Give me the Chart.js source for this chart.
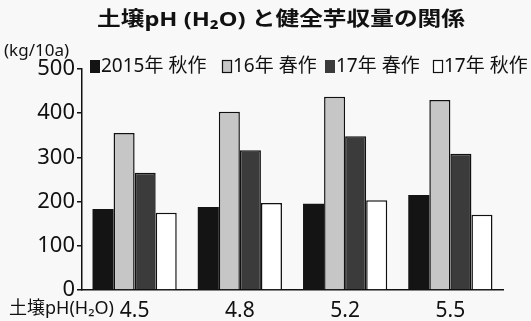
<!DOCTYPE html>
<html>
<head>
<meta charset="utf-8">
<script src="https://cdn.jsdelivr.net/npm/chart.js@4"></script>
<style>
  html, body { margin: 0; padding: 0; background: #f8f8f8; }
  #wrap { width: 531px; height: 321px; }
</style>
</head>
<body>
<div id="wrap"><canvas id="yieldChart" width="531" height="321"></canvas></div>
<script>
// 土壌pHと健全芋収量 (kg/10a)
const phLabels = ['4.5', '4.8', '5.2', '5.5'];
const seriesNames = ['2015年 秋作', '16年 春作', '17年 春作', '17年 秋作'];
const autumn2015 = [183, 188, 195, 215];
const spring2016 = [355, 403, 437, 430];
const spring2017 = [265, 316, 348, 308];
const autumn2017 = [175, 197, 203, 170];
const yTicks = [0, 100, 200, 300, 400, 500];

const titleText = '土壌pH (H₂O) と健全芋収量の関係';
const unitText = '(kg/10a)';
const xAxisText = '土壌pH(H₂O)';

const FAMILY = '"Noto Sans", "Noto Sans CJK JP", sans-serif';
const INK = '#111111';
const fills = ['#141414', '#c6c6c6', '#3b3b3b', '#ffffff'];

Chart.defaults.font.family = FAMILY;
Chart.defaults.color = INK;

// text drawn with a slight horizontal stretch like the scanned original
function drawText(ctx, s, x, y, font, align, sx) {
    ctx.save();
    ctx.font = font;
    ctx.fillStyle = INK;
    ctx.textBaseline = 'middle';
    ctx.textAlign = align;
    ctx.translate(x, y);
    ctx.scale(sx, 1);
    ctx.fillText(s, 0, 0);
    ctx.restore();
}

const annotations = {
    id: 'annotations',
    beforeDraw(chart) {
        const ctx = chart.ctx;
        ctx.save();
        ctx.fillStyle = '#f8f8f8';
        ctx.fillRect(0, 0, chart.width, chart.height);
        ctx.restore();
    },
    afterDraw(chart) {
        const ctx = chart.ctx;

        // title, stretched to the original width
        const tf = 'bold 20px ' + FAMILY;
        ctx.save();
        ctx.font = tf;
        const tw = ctx.measureText(titleText).width;
        ctx.restore();
        drawText(ctx, titleText, 281, 20, tf, 'center', 368 / tw);

        drawText(ctx, unitText, 4, 51, '17px ' + FAMILY, 'left', 1);
        drawText(ctx, xAxisText, 9, 309, '18px ' + FAMILY, 'left', 1);

        // legend row
        const boxX = [90, 222, 325, 433];
        ctx.save();
        seriesNames.forEach((name, i) => {
            ctx.fillStyle = fills[i];
            ctx.fillRect(boxX[i], 60, 10, 13);
            if (i !== 0 && i !== 2) {
                ctx.strokeStyle = INK;
                ctx.lineWidth = 1.2;
                ctx.strokeRect(boxX[i] + 0.5, 60.5, 9, 12);
            }
            drawText(ctx, name, boxX[i] + 11, 67, '19px ' + FAMILY, 'left', 1);
        });
        ctx.restore();
    }
};

const datasets = [autumn2015, spring2016, spring2017, autumn2017].map((vals, i) => ({
    label: seriesNames[i],
    data: vals,
    backgroundColor: fills[i],
    borderColor: INK,
    borderWidth: i === 0 ? 0 : 1.5,
    categoryPercentage: 0.8,
    barPercentage: 1.0
}));

new Chart(document.getElementById('yieldChart').getContext('2d'), {
    type: 'bar',
    data: { labels: phLabels, datasets: datasets },
    options: {
        responsive: false,
        animation: false,
        layout: { padding: { top: 69, right: 28, left: 0, bottom: 0 } },
        plugins: {
            legend: { display: false },
            title: { display: false },
            tooltip: { enabled: false }
        },
        scales: {
            x: {
                grid: { display: false },
                border: { display: true, color: INK, width: 1.5 },
                ticks: { font: { size: 21 }, color: INK, padding: 0 },
                afterFit(scale) { scale.height = 31; }
            },
            y: {
                min: 0,
                max: 500,
                afterBuildTicks(scale) { scale.ticks = yTicks.map(v => ({ value: v })); },
                grid: { drawOnChartArea: false, tickLength: 5, color: INK, lineWidth: 1.5 },
                border: { display: true, color: INK, width: 1.5 },
                ticks: { font: { size: 22 }, color: INK, padding: 2 },
                afterFit(scale) { scale.width = 82; }
            }
        }
    },
    plugins: [annotations]
});
</script>
</body>
</html>
